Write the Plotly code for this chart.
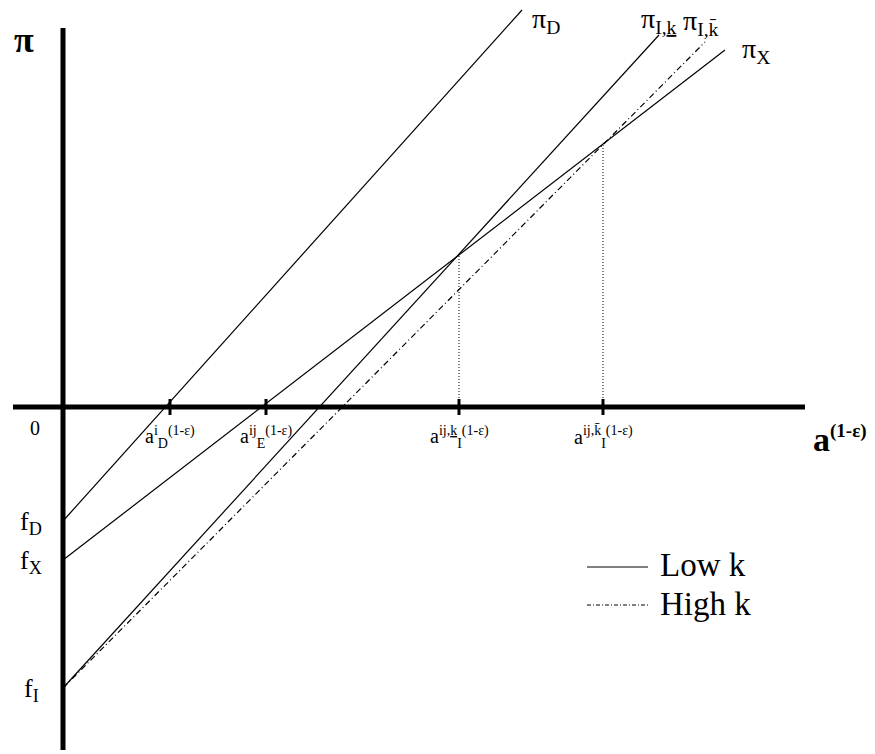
#!/usr/bin/env python
# coding: utf-8

"""Profit lines pi(a^(1-eps)) for domestic, exporting and integrating firms."""

import plotly.graph_objects as go

# line endpoints: every line starts on the vertical axis at its fixed cost
line_names = ["pi_D", "pi_X", "pi_I_low", "pi_I_high"]
fixed_costs = [-1.14, -1.53, -2.81, -2.81]
end_x = [4.59, 6.62, 5.96, 6.42]
end_y = [3.97, 3.57, 3.72, 3.65]
line_dash = ["solid", "solid", "solid", "6px,3px,1px,3px"]

# cutoffs on the horizontal axis
cutoff_x = [1.07, 2.03, 3.96, 5.40]
cutoff_labels = [
    "a<sup>i</sup><sub>D</sub><sup>(1-ε)</sup>",
    "a<sup>ij</sup><sub>E</sub><sup>(1-ε)</sup>",
    "a<sup>ij,<u>k</u></sup><sub>I</sub><sup>(1-ε)</sup>",
    "a<sup>ij,k̄</sup><sub>I</sub><sup>(1-ε)</sup>",
]
# dotted guides up to the crossings with pi_X
guide_x = [3.96, 5.40]
guide_y = [1.52, 2.63]

fixed_cost_labels = ["f<sub>D</sub>", "f<sub>X</sub>", "f<sub>I</sub>"]
fixed_cost_values = [-1.14, -1.53, -2.81]

line_labels = [
    "π<sub>D</sub>",
    "π<sub>X</sub>",
    "π<sub>I,<u>k</u></sub>",
    "π<sub>I,k̄</sub>",
]
line_label_pos = [(4.83, 3.87), (6.93, 3.57), (5.96, 3.87), (6.38, 3.85)]

FONT = "Liberation Serif, Times New Roman, serif"

fig = go.Figure()

# axes drawn as thick lines
fig.add_trace(go.Scatter(x=[-0.5, 7.42], y=[0, 0], mode="lines",
                         line=dict(color="black", width=5), hoverinfo="skip"))
fig.add_trace(go.Scatter(x=[0, 0], y=[3.79, -3.43], mode="lines",
                         line=dict(color="black", width=5), hoverinfo="skip"))

# profit lines
for name, f, x1, y1, d in zip(line_names, fixed_costs, end_x, end_y, line_dash):
    fig.add_trace(go.Scatter(x=[0, x1], y=[f, y1], mode="lines", name=name,
                             line=dict(color="black", width=1.2, dash=d),
                             hoverinfo="skip"))

# dotted guides
for gx, gy in zip(guide_x, guide_y):
    fig.add_trace(go.Scatter(x=[gx, gx], y=[0, gy], mode="lines",
                             line=dict(color="black", width=1, dash="1px,2px"),
                             hoverinfo="skip"))

# tick marks and their labels
for cx, lab in zip(cutoff_x, cutoff_labels):
    fig.add_trace(go.Scatter(x=[cx, cx], y=[0.08, -0.08], mode="lines",
                             line=dict(color="black", width=3), hoverinfo="skip"))
    fig.add_annotation(x=cx, y=-0.3, text=lab, showarrow=False,
                       font=dict(family=FONT, size=20, color="black"))

# fixed cost labels
for lab, v in zip(fixed_cost_labels, fixed_cost_values):
    fig.add_annotation(x=-0.32, y=v - 0.02, text=lab, showarrow=False,
                       font=dict(family=FONT, size=26, color="black"))

# line labels
for lab, (lx, ly) in zip(line_labels, line_label_pos):
    fig.add_annotation(x=lx, y=ly, text=lab, showarrow=False,
                       font=dict(family=FONT, size=28, color="black"))

# axis titles
fig.add_annotation(x=-0.39, y=3.67, text="<b>π</b>", showarrow=False,
                   font=dict(family=FONT, size=36, color="black"))
fig.add_annotation(x=-0.28, y=-0.21, text="0", showarrow=False,
                   font=dict(family=FONT, size=20, color="black"))
fig.add_annotation(x=7.77, y=-0.32,
                   text="<b>a<sup><span style='font-size:19px'>(1-ε)</span></sup></b>",
                   showarrow=False,
                   font=dict(family=FONT, size=34, color="black"))

# hand-drawn legend
fig.add_trace(go.Scatter(x=[5.24, 5.85], y=[-1.60, -1.60], mode="lines",
                         line=dict(color="black", width=1.2), hoverinfo="skip"))
fig.add_trace(go.Scatter(x=[5.24, 5.85], y=[-1.98, -1.98], mode="lines",
                         line=dict(color="black", width=1.2, dash="4px,2px,1px,2px"),
                         hoverinfo="skip"))
fig.add_annotation(x=5.95, y=-1.58, text="Low k", showarrow=False, xanchor="left",
                   font=dict(family=FONT, size=33, color="black"))
fig.add_annotation(x=5.95, y=-1.97, text="High k", showarrow=False, xanchor="left",
                   font=dict(family=FONT, size=33, color="black"))

fig.update_layout(
    width=875,
    height=754,
    margin=dict(l=0, r=0, t=0, b=0),
    plot_bgcolor="white",
    paper_bgcolor="white",
    showlegend=False,
    xaxis=dict(range=[-0.63, 8.12], visible=False, fixedrange=True),
    yaxis=dict(range=[-3.47, 4.07], visible=False, fixedrange=True),
)

# drop the default 8px page margin so the figure fills the window
fig.write_html("out.html", config={"displayModeBar": False},
               post_script="document.body.style.margin='0px';")
